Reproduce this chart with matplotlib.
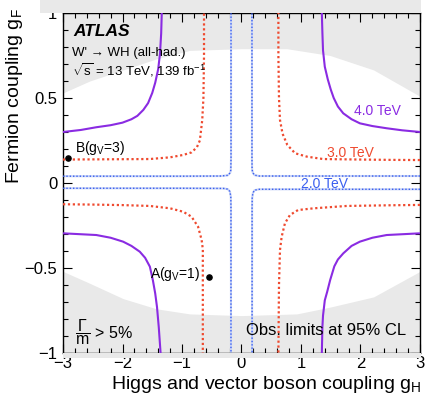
import matplotlib
matplotlib.use("Agg")
import matplotlib.pyplot as plt
from matplotlib.patches import Rectangle
from matplotlib.ticker import MultipleLocator, FixedLocator

plt.rcParams['font.family'] = ['Liberation Sans', 'DejaVu Sans']
plt.rcParams['mathtext.fontset'] = 'custom'
plt.rcParams['mathtext.rm'] = 'Liberation Sans'
plt.rcParams['mathtext.it'] = 'Liberation Sans:italic'
plt.rcParams['mathtext.bf'] = 'Liberation Sans:bold'

# ---------------- data ----------------
# Width > 5% region boundary (grey outside)
band_gH = [-3.0, -2.55, -1.99, -1.43, -0.87, 0.0, 0.76, 1.49, 2.22, 3.0]
band_top = [0.53, 0.60, 0.665, 0.73, 0.78, 0.79, 0.79, 0.75, 0.665, 0.51]
band_gH_low = [-3.0, -2.55, -1.99, -1.43, -0.87, 0.0, 0.93, 1.49, 2.22, 3.0]
band_bot = [-0.52, -0.59, -0.68, -0.74, -0.77, -0.78, -0.77, -0.73, -0.67, -0.52]

# 4.0 TeV observed limit (four branches)
m4_tl_gH = [-3.0, -2.7, -2.44, -2.2, -2.0, -1.85, -1.75, -1.65, -1.57, -1.50, -1.45, -1.40, -1.37, -1.35, -1.34]
m4_tl_gF = [0.300, 0.312, 0.328, 0.340, 0.355, 0.375, 0.395, 0.43, 0.47, 0.53, 0.59, 0.67, 0.76, 0.88, 1.0]
m4_bl_gH = [-3.0, -2.44, -2.2, -1.99, -1.85, -1.71, -1.62, -1.54, -1.49, -1.45, -1.42, -1.39, -1.36]
m4_bl_gF = [-0.296, -0.306, -0.322, -0.345, -0.37, -0.404, -0.44, -0.492, -0.571, -0.65, -0.73, -0.85, -1.0]
m4_tr_gH = [3.0, 2.7, 2.44, 2.2, 1.99, 1.85, 1.71, 1.62, 1.55, 1.50, 1.45, 1.40, 1.37, 1.36, 1.35]
m4_tr_gF = [0.300, 0.310, 0.322, 0.335, 0.351, 0.375, 0.41, 0.45, 0.50, 0.55, 0.61, 0.684, 0.78, 0.88, 1.0]
m4_br_gH = [3.0, 2.44, 2.2, 1.99, 1.85, 1.71, 1.62, 1.56, 1.49, 1.44, 1.40, 1.37, 1.36, 1.35]
m4_br_gF = [-0.296, -0.306, -0.322, -0.345, -0.37, -0.414, -0.45, -0.49, -0.571, -0.64, -0.69, -0.78, -0.845, -1.0]

# 3.0 TeV observed limit
m3_tl_gH = [-3.0, -2.5, -2.0, -1.54, -1.20, -0.98, -0.84, -0.75, -0.70, -0.66, -0.64, -0.63, -0.63]
m3_tl_gF = [0.138, 0.139, 0.140, 0.141, 0.151, 0.165, 0.18, 0.21, 0.25, 0.37, 0.5, 0.75, 1.0]
m3_bl_gH = [-3.0, -2.5, -2.0, -1.54, -1.20, -0.98, -0.84, -0.73, -0.67, -0.65, -0.65, -0.65]
m3_bl_gF = [-0.125, -0.127, -0.130, -0.135, -0.149, -0.169, -0.198, -0.257, -0.335, -0.39, -0.6, -1.0]
m3_tr_gH = [3.0, 2.5, 2.0, 1.37, 1.10, 0.90, 0.77, 0.69, 0.647, 0.63, 0.62, 0.62]
m3_tr_gF = [0.135, 0.136, 0.138, 0.141, 0.155, 0.175, 0.224, 0.29, 0.37, 0.5, 0.75, 1.0]
m3_br_gH = [3.0, 2.5, 1.77, 1.21, 0.95, 0.815, 0.73, 0.675, 0.647, 0.63, 0.62]
m3_br_gF = [-0.129, -0.131, -0.135, -0.149, -0.159, -0.188, -0.237, -0.316, -0.394, -0.6, -1.0]

# 2.0 TeV observed limit
m2_tl_gH = [-3.0, -1.0, -0.35, -0.23, -0.19, -0.18, -0.176, -0.176]
m2_tl_gF = [0.040, 0.040, 0.041, 0.045, 0.060, 0.076, 0.15, 1.0]
m2_bl_gH = [-3.0, -1.0, -0.30, -0.23, -0.195, -0.18, -0.177, -0.177]
m2_bl_gF = [-0.031, -0.031, -0.032, -0.036, -0.050, -0.080, -0.15, -1.0]
m2_tr_gH = [3.0, 1.0, 0.30, 0.22, 0.19, 0.178, 0.176, 0.176]
m2_tr_gF = [0.041, 0.041, 0.041, 0.046, 0.060, 0.080, 0.15, 1.0]
m2_br_gH = [3.0, 1.0, 0.30, 0.22, 0.19, 0.18, 0.178, 0.178]
m2_br_gF = [-0.037, -0.037, -0.037, -0.042, -0.060, -0.090, -0.15, -1.0]

# benchmark points
bench_names = ['A', 'B']
bench_gV = [1, 3]
bench_gH = [-0.55, -2.91]
bench_gF = [-0.55, 0.147]

x_ticks = [-3, -2, -1, 0, 1, 2, 3]
x_ticklabels = ['\u22123', '\u22122', '\u22121', '0', '1', '2', '3']
y_ticks = [-1, -0.5, 0, 0.5, 1]
y_ticklabels = ['\u22121', '\u22120.5', '0', '0.5', '1']

# ---------------- styles ----------------
c4 = '#8a2be2'
c3 = '#ef4a2f'
c2 = '#3a5ff0'
grey = '#e9e9e9'

W, H = 431, 405
fig = plt.figure(figsize=(W / 100, H / 100), dpi=100)
ax = fig.add_axes([63 / W, 1 - 353 / H, (420 - 63) / W, (353 - 13) / H])
ax.set_xlim(-3, 3)
ax.set_ylim(-1, 1)

# grey (Gamma/m > 5%) region
ax.fill_between(band_gH, band_top, 1.0, color=grey, lw=0, zorder=0)
ax.fill_between(band_gH_low, -1.0, band_bot, color=grey, lw=0, zorder=0)
fig.patches.append(Rectangle((40 / W, 1 - 13 / H), (421 - 40) / W, 13 / H,
                             transform=fig.transFigure, color=grey, lw=0, zorder=0))
fig.patches.append(Rectangle((63 / W, 1 - 358 / H), (421 - 63) / W, 5 / H,
                             transform=fig.transFigure, color=grey, lw=0, zorder=0))

# 4 TeV
for gx, gy in [(m4_tl_gH, m4_tl_gF), (m4_bl_gH, m4_bl_gF), (m4_tr_gH, m4_tr_gF), (m4_br_gH, m4_br_gF)]:
    ax.plot(gx, gy, color=c4, lw=1.5, solid_capstyle='butt', zorder=3)
# 3 TeV
for gx, gy in [(m3_tl_gH, m3_tl_gF), (m3_bl_gH, m3_bl_gF), (m3_tr_gH, m3_tr_gF), (m3_br_gH, m3_br_gF)]:
    ax.plot(gx, gy, color=c3, lw=1.6, linestyle=(0, (1, 1.2)), zorder=3)
# 2 TeV
for gx, gy in [(m2_tl_gH, m2_tl_gF), (m2_bl_gH, m2_bl_gF), (m2_tr_gH, m2_tr_gF), (m2_br_gH, m2_br_gF)]:
    ax.plot(gx, gy, color='#c8d3f6', lw=1.5, zorder=2)
    ax.plot(gx, gy, color=c2, lw=1.0, linestyle=(0, (1, 1.4)), zorder=3)

# benchmark points
ax.scatter(bench_gH, bench_gF, s=14, color='black', zorder=5)
ax.text(bench_gH[1] + 0.12, bench_gF[1] + 0.035, r'B(g$_\mathrm{V}$=%d)' % bench_gV[1],
        fontsize=10, ha='left', va='baseline', zorder=6)
ax.text(bench_gH[0] - 0.15, bench_gF[0] - 0.007, r'A(g$_\mathrm{V}$=%d)' % bench_gV[0],
        fontsize=10, ha='right', va='baseline', zorder=6)

# contour labels
ax.text(1.89, 0.40, '4.0 TeV', color=c4, fontsize=10, ha='left', va='baseline')
ax.text(1.43, 0.155, '3.0 TeV', color=c3, fontsize=10, ha='left', va='baseline')
ax.text(1.0, -0.028, '2.0 TeV', color=c2, fontsize=10, ha='left', va='baseline')

# annotations
ax.text(-2.83, 0.865, 'ATLAS', fontsize=12.5, fontweight='bold', fontstyle='italic',
        ha='left', va='baseline')
ax.text(-2.85, 0.747, "W' \u2192 WH (all-had.)", fontsize=9.5, ha='left', va='baseline')
ax.text(-2.85, 0.635, r'$\sqrt{\mathrm{s}}$ = 13 TeV, 139 fb$^{-1}$', fontsize=9.5,
        ha='left', va='baseline')
ax.text(-2.80, -0.876, r'$\dfrac{\Gamma}{\mathrm{m}}$ > 5%', fontsize=11.5, ha='left', va='center')
ax.text(2.76, -0.894, 'Obs. limits at 95% CL', fontsize=12, ha='right', va='baseline')

# axes styling
ax.xaxis.set_major_locator(FixedLocator(x_ticks))
ax.set_xticklabels(x_ticklabels)
ax.yaxis.set_major_locator(FixedLocator(y_ticks))
ax.set_yticklabels(y_ticklabels)
ax.xaxis.set_minor_locator(MultipleLocator(0.2))
ax.yaxis.set_minor_locator(MultipleLocator(0.1))
ax.tick_params(which='both', direction='in', top=True, right=True, width=0.8, color='black')
ax.tick_params(which='major', length=6.5)
ax.tick_params(which='minor', length=3.4)
ax.tick_params(axis='x', which='major', labelsize=12, pad=2)
ax.tick_params(axis='y', which='major', labelsize=12, pad=4)
for s in ax.spines.values():
    s.set_linewidth(1.0)
ax.set_facecolor('white')

fig.text(421 / W, 1 - 389 / H, r'Higgs and vector boson coupling g$_\mathrm{H}$', fontsize=14,
         ha='right', va='baseline')
fig.text(15 / W, 1 - 8 / H, r'Fermion coupling g$_\mathrm{F}$', fontsize=14, rotation=90,
         ha='center', va='top')

fig.savefig('out.png', dpi=100)
